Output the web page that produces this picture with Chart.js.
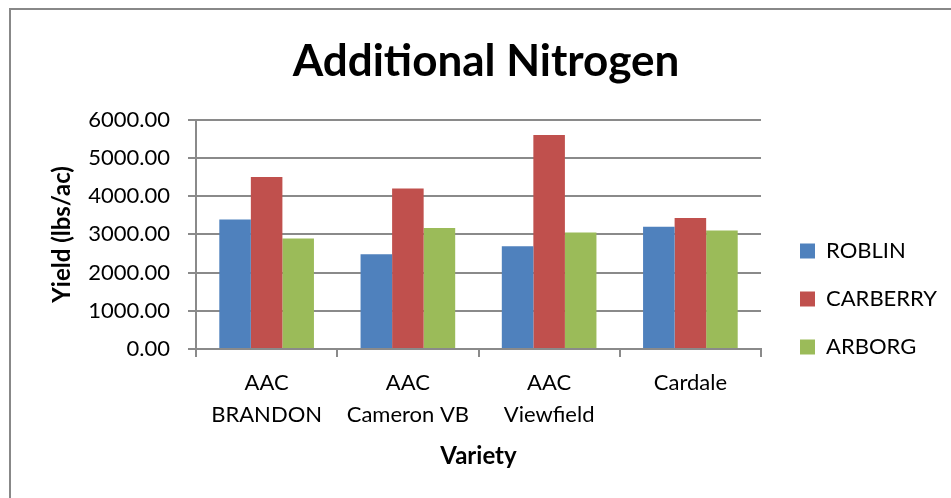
<!DOCTYPE html>
<html>
<head>
<meta charset="utf-8">
<script src="https://cdn.jsdelivr.net/npm/chart.js@4"></script>
<style>
  html, body { margin: 0; padding: 0; background: #fff; }
  #wrap { position: relative; width: 951px; height: 498px; overflow: hidden; }
  #frame { position: absolute; left: 9px; top: 8px; width: 1000px; height: 600px;
           border-left: 2px solid #888; border-top: 2px solid #888; }
  canvas { position: absolute; left: 0; top: 0; }
</style>
</head>
<body>
<div id="wrap">
  <div id="frame"></div>
  <canvas id="grafico" width="951" height="498"></canvas>
</div>
<script>
// variedades y rendimientos (lbs/ac)
var variedades = [['AAC', 'BRANDON'], ['AAC', 'Cameron VB'], ['AAC', 'Viewfield'], 'Cardale'];
var roblin = [3390, 2480, 2690, 3200];
var carberry = [4500, 4200, 5600, 3430];
var arborg = [2890, 3170, 3050, 3100];
var ticksY = [0, 1000, 2000, 3000, 4000, 5000, 6000];

var fuente = 'Lato, "Open Sans", sans-serif';
Chart.defaults.font.family = fuente;
Chart.defaults.color = '#000';

// mover la leyenda como en el original
var moverLeyenda = {
  id: 'moverLeyenda',
  afterUpdate: function (chart) {
    var l = chart.legend;
    l.top += 45;
    l.bottom += 45;
    l.left += 13;
    l.right += 13;
  }
};

var ctx = document.getElementById('grafico').getContext('2d');
var myChart = new Chart(ctx, {
  type: 'bar',
  data: {
    labels: variedades,
    datasets: [
      { label: 'ROBLIN', data: roblin, backgroundColor: '#4F81BD' },
      { label: 'CARBERRY', data: carberry, backgroundColor: '#C0504D' },
      { label: 'ARBORG', data: arborg, backgroundColor: '#9BBB59' }
    ]
  },
  plugins: [moverLeyenda],
  options: {
    responsive: false,
    animation: false,
    layout: { padding: { left: 38, top: 10, right: 17, bottom: 0 } },
    datasets: { bar: { categoryPercentage: 0.67, barPercentage: 1 } },
    plugins: {
      title: {
        display: true,
        text: 'Additional Nitrogen',
        color: '#000',
        font: { size: 44, weight: 'bold' },
        padding: { top: 25, bottom: 32 }
      },
      legend: {
        position: 'right',
        labels: {
          boxWidth: 15,
          boxHeight: 15,
          padding: 26,
          color: '#000',
          font: { size: 22 }
        }
      },
      tooltip: { enabled: false }
    },
    scales: {
      x: {
        grid: { offset: true, drawOnChartArea: false, tickLength: 8, color: '#8a8a8a', lineWidth: 2 },
        border: { color: '#8a8a8a', width: 2 },
        ticks: { font: { size: 22, lineHeight: 1.4545 }, padding: 10, maxRotation: 0 },
        title: { display: true, text: 'Variety', font: { size: 24, weight: 'bold' }, padding: { top: 8, bottom: 27 } },
        afterFit: function (s) { s.height = 149; }
      },
      y: {
        min: 0,
        max: 6000,
        afterBuildTicks: function (s) { s.ticks = ticksY.map(function (v) { return { value: v }; }); },
        grid: { color: '#8a8a8a', lineWidth: 2, tickLength: 8 },
        border: { color: '#8a8a8a', width: 2 },
        ticks: { font: { size: 22 }, padding: 18, callback: function (v) { return v.toFixed(2); } },
        title: { display: true, text: 'Yield (lbs/ac)', font: { size: 24, weight: 'bold' }, padding: { top: 10, bottom: 6 } },
        afterFit: function (s) { s.width = 158; }
      }
    }
  }
});
</script>
</body>
</html>
